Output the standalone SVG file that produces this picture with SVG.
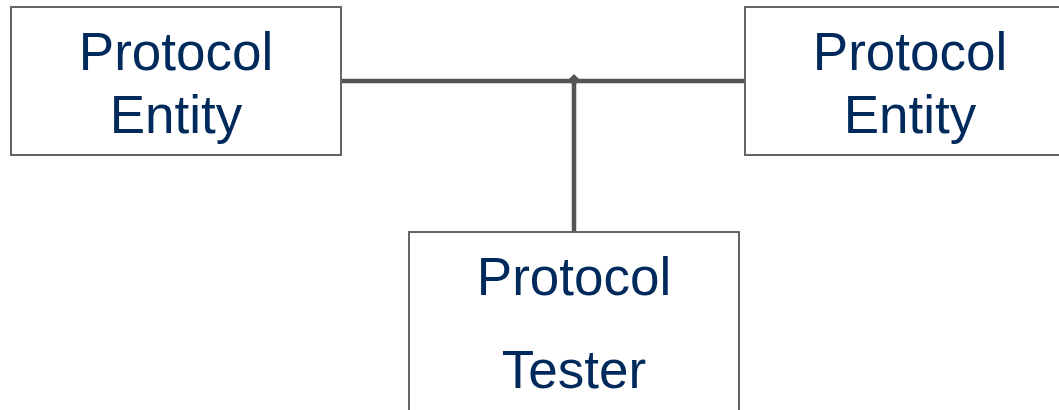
<svg xmlns="http://www.w3.org/2000/svg" width="1059" height="410" viewBox="0 0 1059 410">
  <style>
    .box { fill: #ffffff; stroke: #666666; stroke-width: 2; }
    .label { font-family: "Liberation Sans", Arial, sans-serif; font-size: 53px; fill: #002a5c; text-anchor: middle; }
    .wire { stroke: #555555; stroke-width: 4.5; fill: none; }
  </style>
  <rect width="1059" height="410" fill="#ffffff"/>

  <!-- links between the entities and the tester -->
  <g id="connectors">
    <line class="wire" x1="341" y1="81" x2="745" y2="81"/>
    <line class="wire" x1="574" y1="81" x2="574" y2="232"/>
    <path d="M574 74 L580 80 L574 86 L568 80 Z" fill="#555555"/>
  </g>

  <g id="entity-left">
    <rect class="box" x="11" y="7" width="330" height="148"/>
    <text class="label" x="176" y="70">Protocol</text>
    <text class="label" x="176" y="133">Entity</text>
  </g>

  <g id="entity-right">
    <rect class="box" x="745" y="7" width="330" height="148"/>
    <text class="label" x="910" y="70">Protocol</text>
    <text class="label" x="910" y="133">Entity</text>
  </g>

  <g id="tester">
    <rect class="box" x="409" y="232" width="330" height="200"/>
    <text class="label" x="574" y="295">Protocol</text>
    <text class="label" x="574" y="388">Tester</text>
  </g>
</svg>
